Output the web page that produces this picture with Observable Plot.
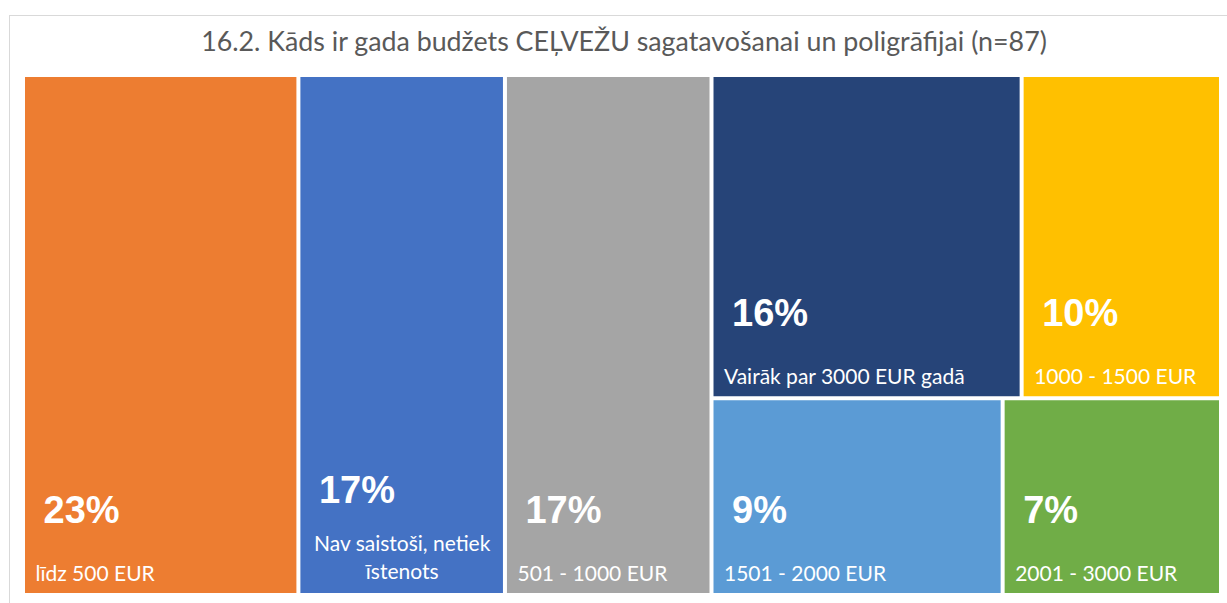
<!DOCTYPE html>
<html>
<head>
<meta charset="utf-8">
<script src="https://cdn.jsdelivr.net/npm/d3@7"></script>
<script src="https://cdn.jsdelivr.net/npm/@observablehq/plot@0.6"></script>
<style>
  html, body { margin: 0; padding: 0; background: #fff; width: 1227px; height: 603px; overflow: hidden; }
  #frame { position: absolute; left: 9px; top: 15px; width: 1260px; height: 620px; border: 1px solid #d9d9d9; box-sizing: border-box; }
  #title { position: absolute; left: 0; width: 1248px; top: 28px; line-height: 27px; text-align: center; font-family: Lato, sans-serif; font-size: 26.8px; color: #595959; white-space: nowrap; }
  #chart { position: absolute; left: 25px; top: 77px; }
</style>
</head>
<body>
<div id="frame"></div>
<div id="title">16.2. Kāds ir gada budžets CEĻVEŽU sagatavošanai un poligrāfijai (n=87)</div>
<div id="chart"></div>
<script>
const total = 87;
const categories = ["līdz 500 EUR", "Nav saistoši, netiek\nīstenots", "501 - 1000 EUR", "Vairāk par 3000 EUR gadā", "1000 - 1500 EUR", "1501 - 2000 EUR", "2001 - 3000 EUR"];
const counts = [20, 15, 15, 14, 9, 8, 6];
const colors = ["#ED7D31", "#4472C4", "#A5A5A5", "#264478", "#FFC000", "#5B9BD5", "#70AD47"];

const W = 1194, H = 516;
const leaves = categories.map((c, i) => ({name: c, value: counts[i], color: colors[i], pct: Math.round(counts[i] / total * 100) + "%"}));
// Excel-like arrangement: three columns, then a block of two rows
const tree = {children: [leaves[0], leaves[1], leaves[2], {children: [{children: [leaves[3], leaves[4]]}, {children: [leaves[5], leaves[6]]}]}]};
const root = d3.hierarchy(tree).sum(d => d.children ? 0 : d.value);
d3.treemap()
  .size([W, H])
  .paddingInner(4)
  .round(false)
  .tile((node, x0, y0, x1, y1) => (node.depth % 2 === 0 ? d3.treemapDice : d3.treemapSlice)(node, x0, y0, x1, y1))(root);
const cells = root.leaves().map(n => ({...n.data, x0: n.x0, x1: n.x1, y0: n.y0, y1: n.y1, lines: n.data.name.split("\n").length}));
const single = cells.filter(d => d.lines === 1);
const multi = cells.filter(d => d.lines > 1);

const labelFont = 21, lineH = 1.3;
const labelStyle = {lineAnchor: "bottom", lineHeight: lineH, fill: "white", fontSize: labelFont, fontFamily: "Lato, sans-serif"};
const plot = Plot.plot({
  width: W, height: H,
  margin: 0,
  x: {domain: [0, W], range: [0, W], axis: null},
  y: {domain: [0, H], range: [0, H], axis: null},
  marks: [
    Plot.rect(cells, {x1: "x0", x2: "x1", y1: "y0", y2: "y1", fill: "color"}),
    Plot.text(single, {x: d => d.x0 + 10, y: d => d.y1 - 13, text: "name", textAnchor: "start", ...labelStyle}),
    Plot.text(multi, {x: d => (d.x0 + d.x1) / 2, y: d => d.y1 - 15, text: "name", textAnchor: "middle", ...labelStyle}),
    Plot.text(cells, {
      x: d => d.x0 + 18,
      y: d => d.y1 - 13 - (d.lines - 1) * 20 - 58,
      text: "pct",
      textAnchor: "start",
      lineAnchor: "bottom",
      fill: "white",
      fontSize: 38,
      fontWeight: "bold",
      fontFamily: "Liberation Sans, Arial, sans-serif"
    })
  ]
});
document.getElementById("chart").appendChild(plot);
</script>
</body>
</html>
